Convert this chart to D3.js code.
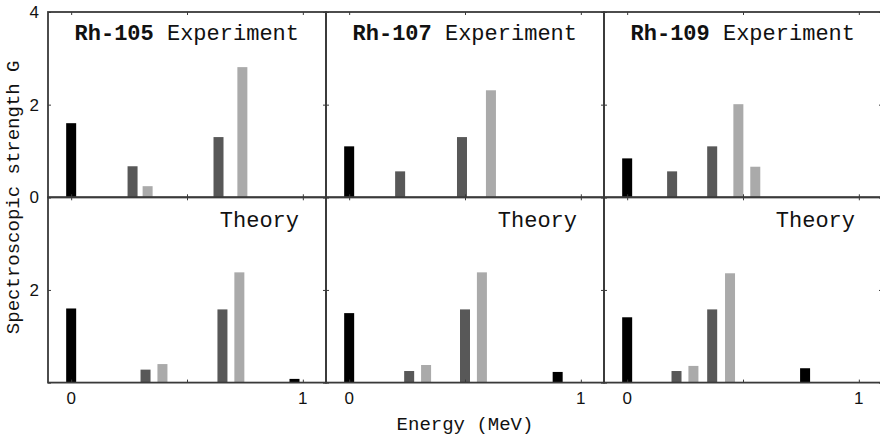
<!DOCTYPE html>
<html>
<head>
<meta charset="utf-8">
<script src="https://cdn.jsdelivr.net/npm/d3@7"></script>
<style>
  html, body { margin: 0; padding: 0; background: #fff; }
  svg { display: block; }
  .mono { font-family: "Courier New", "Liberation Mono", monospace; fill: #111; }
  .tick-label { font-family: "Liberation Sans", Arial, sans-serif; font-size: 17px; fill: #111; }
</style>
</head>
<body>
<svg id="chart" width="880" height="435"></svg>
<script>
// Isotopes (columns) and rows
const isotopes = ["Rh-105", "Rh-107", "Rh-109"];
const rowNames = ["Experiment", "Theory"];

// Bar shade classes: k = black, d = dark grey, l = light grey
const shadeColors = { k: "#000000", d: "#585858", l: "#aaaaaa" };

// Rh-105
const rh105ExpEnergy   = [0.00, 0.265, 0.33, 0.636, 0.739];
const rh105ExpStrength = [1.60, 0.67, 0.24, 1.30, 2.81];
const rh105ExpShade    = ["k", "d", "l", "d", "l"];
const rh105ThEnergy    = [0.00, 0.321, 0.394, 0.653, 0.726, 0.964];
const rh105ThStrength  = [1.60, 0.28, 0.40, 1.58, 2.38, 0.08];
const rh105ThShade     = ["k", "d", "l", "d", "l", "k"];

// Rh-107
const rh107ExpEnergy   = [0.00, 0.22, 0.487, 0.612];
const rh107ExpStrength = [1.10, 0.56, 1.30, 2.31];
const rh107ExpShade    = ["k", "d", "d", "l"];
const rh107ThEnergy    = [0.00, 0.259, 0.332, 0.50, 0.573, 0.90];
const rh107ThStrength  = [1.50, 0.25, 0.38, 1.58, 2.38, 0.23];
const rh107ThShade     = ["k", "d", "l", "d", "l", "k"];

// Rh-109
const rh109ExpEnergy   = [0.00, 0.194, 0.367, 0.48, 0.553];
const rh109ExpStrength = [0.84, 0.56, 1.10, 2.01, 0.66];
const rh109ExpShade    = ["k", "d", "d", "l", "l"];
const rh109ThEnergy    = [0.00, 0.213, 0.286, 0.367, 0.444, 0.768];
const rh109ThStrength  = [1.41, 0.25, 0.36, 1.58, 2.36, 0.31];
const rh109ThShade     = ["k", "d", "l", "d", "l", "k"];

// Axis ticks
const xTicks = [0, 0.5, 1];
const xTickLabels = ["0", "", "1"];
const yTicks = [0, 2, 4];
const yTickLabelsTop = ["0", "2", "4"];
const yTickLabelsBottom = ["", "2", ""];

const xDomain = [-0.1, 1.1];
const yDomain = [0, 4];

const panels = [
  [
    { e: rh105ExpEnergy, g: rh105ExpStrength, s: rh105ExpShade },
    { e: rh105ThEnergy, g: rh105ThStrength, s: rh105ThShade }
  ],
  [
    { e: rh107ExpEnergy, g: rh107ExpStrength, s: rh107ExpShade },
    { e: rh107ThEnergy, g: rh107ThStrength, s: rh107ThShade }
  ],
  [
    { e: rh109ExpEnergy, g: rh109ExpStrength, s: rh109ExpShade },
    { e: rh109ThEnergy, g: rh109ThStrength, s: rh109ThShade }
  ]
];

// Layout
const gridLeft = 48, gridTop = 12, panelW = 278, panelH = 185.3;
const barW = 10;
const frameColor = "#3a3a3a";

const svg = d3.select("#chart");

const colBand = d3.scaleLinear().domain([0, 3]).range([gridLeft, gridLeft + 3 * panelW]);
const rowBand = d3.scaleLinear().domain([0, 2]).range([gridTop, gridTop + 2 * panelH]);

panels.forEach((col, ci) => {
  col.forEach((p, ri) => {
    const x0 = colBand(ci), x1 = colBand(ci + 1);
    const y0 = rowBand(ri), y1 = rowBand(ri + 1);
    const x = d3.scaleLinear().domain(xDomain).range([x0, x1]);
    const y = d3.scaleLinear().domain(yDomain).range([y1, y0]);
    const g = svg.append("g");

    // bars
    const rows = p.e.map((e, i) => ({ e, v: p.g[i], s: p.s[i] }));
    g.selectAll("rect.bar").data(rows).join("rect")
      .attr("class", "bar")
      .attr("x", d => x(d.e) - barW / 2)
      .attr("width", barW)
      .attr("y", d => y(d.v))
      .attr("height", d => y(0) - y(d.v))
      .attr("fill", d => shadeColors[d.s]);

    // inward ticks on all four sides
    const tl = 3;
    g.append("g").attr("transform", `translate(0,${y0})`)
      .call(d3.axisBottom(x).tickValues(xTicks).tickSize(tl).tickFormat(""))
      .call(a => a.select(".domain").remove())
      .selectAll("line").attr("stroke", frameColor);
    g.append("g").attr("transform", `translate(0,${y1})`)
      .call(d3.axisTop(x).tickValues(xTicks).tickSize(tl).tickFormat(""))
      .call(a => a.select(".domain").remove())
      .selectAll("line").attr("stroke", frameColor);
    g.append("g").attr("transform", `translate(${x0},0)`)
      .call(d3.axisRight(y).tickValues(yTicks).tickSize(tl).tickFormat(""))
      .call(a => a.select(".domain").remove())
      .selectAll("line").attr("stroke", frameColor);
    g.append("g").attr("transform", `translate(${x1},0)`)
      .call(d3.axisLeft(y).tickValues(yTicks).tickSize(tl).tickFormat(""))
      .call(a => a.select(".domain").remove())
      .selectAll("line").attr("stroke", frameColor);

    // frame
    g.append("rect")
      .attr("x", x0).attr("y", y0)
      .attr("width", x1 - x0).attr("height", y1 - y0)
      .attr("fill", "none")
      .attr("stroke", frameColor)
      .attr("stroke-width", 1.8);

    // panel title
    const t = g.append("text")
      .attr("class", "mono")
      .attr("x", x1 - 27)
      .attr("y", ri === 0 ? y0 + 28 : y0 + 29.5)
      .attr("text-anchor", "end")
      .style("font-size", "22px");
    if (ri === 0) {
      t.append("tspan").attr("font-weight", "bold").text(isotopes[ci]);
      t.append("tspan").text(" " + rowNames[ri]);
    } else {
      t.text(rowNames[ri]);
    }

    // y tick labels on the left column
    if (ci === 0) {
      const labels = ri === 0 ? yTickLabelsTop : yTickLabelsBottom;
      g.selectAll("text.ylab").data(yTicks).join("text")
        .attr("class", "tick-label ylab")
        .attr("x", x0 - 9)
        .attr("y", d => y(d) + 6)
        .attr("text-anchor", "end")
        .text((d, i) => labels[i]);
    }

    // x tick labels under the bottom row
    if (ri === 1) {
      g.selectAll("text.xlab").data(xTicks).join("text")
        .attr("class", "tick-label xlab")
        .attr("x", d => x(d))
        .attr("y", y1 + 21)
        .attr("text-anchor", "middle")
        .text((d, i) => xTickLabels[i]);
    }
  });
});

// axis titles
svg.append("text")
  .attr("class", "mono")
  .attr("x", colBand(1.5))
  .attr("y", 430)
  .attr("text-anchor", "middle")
  .style("font-size", "19px")
  .text("Energy (MeV)");

svg.append("text")
  .attr("class", "mono")
  .attr("transform", `translate(19,${rowBand(1)}) rotate(-90)`)
  .attr("text-anchor", "middle")
  .style("font-size", "19px")
  .text("Spectroscopic strength G");
</script>
</body>
</html>
